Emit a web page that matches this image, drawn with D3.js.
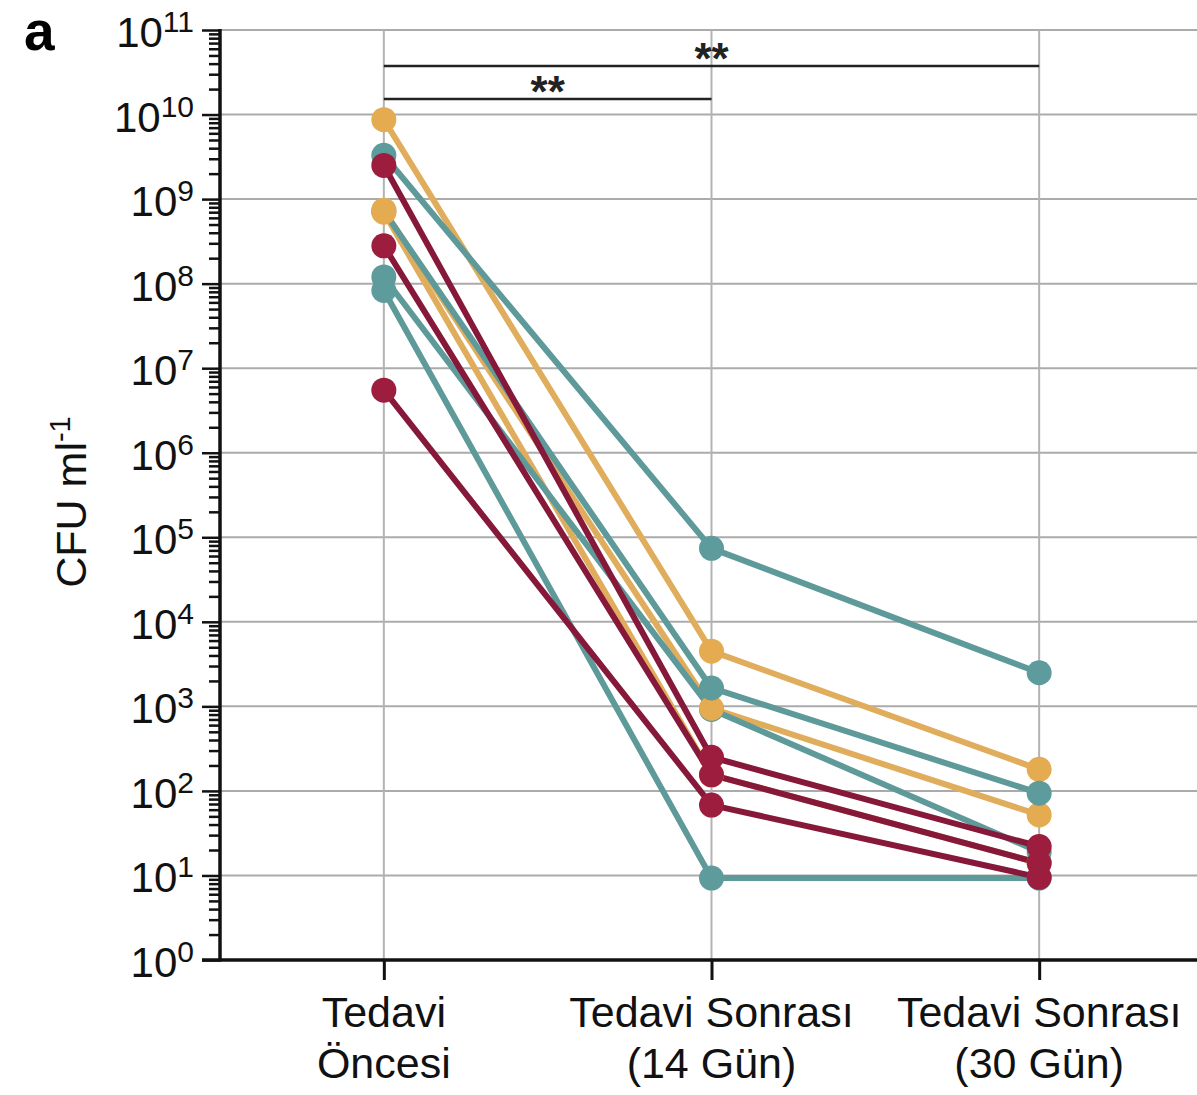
<!DOCTYPE html>
<html><head><meta charset="utf-8">
<script src="https://cdn.jsdelivr.net/npm/d3@7/dist/d3.min.js"></script>
<style>
html,body{margin:0;padding:0;background:#fff;}
svg{display:block;font-family:"Liberation Sans",Arial,Helvetica,sans-serif;}
</style>
</head><body>
<svg id="chart" width="1197" height="1095"></svg>
<script>
// ---- data ----
const categories = ["pre", "d14", "d30"];
const categoryLine1 = ["Tedavi", "Tedavi Sonrası", "Tedavi Sonrası"];
const categoryLine2 = ["Öncesi", "(14 Gün)", "(30 Gün)"];
const yTickExponents = [0,1,2,3,4,5,6,7,8,9,10,11];
const groupNames = ["gold", "teal", "crimson"];
const patientIds   = ["A","D","J","B","E","G","H","C","F","I"];
const patientGroup = ["gold","gold","gold","teal","teal","teal","teal","crimson","crimson","crimson"];
const valuesPre   = [8.7e9, 7.4e8, 7.0e8, 3.3e9, 7.2e8, 1.2e8, 8.3e7, 2.5e9, 2.8e8, 5.5e6];
const valuesDay14 = [4.5e3, 9.5e2, 1.55e2, 7.4e4, 1.65e3, 9.2e2, 9.3, 2.5e2, 1.55e2, 6.8e1];
const valuesDay30 = [1.8e2, 5.2e1, 1.4e1, 2.5e3, 9.4e1, 1.9e1, 9.3, 2.2e1, 1.4e1, 9.5];
const brackets = [ {from: 0, to: 2, label: "**", level: 1}, {from: 0, to: 1, label: "**", level: 0} ];

// ---- styles ----
const lineColor  = {gold: "#e0ad5c", teal: "#5f9a9a", crimson: "#86183a"};
const pointColor = {gold: "#e4ab50", teal: "#5e9b9c", crimson: "#9c1d3d"};
// point stacking order per column (bottom -> top)
const pointOrder = [
  ["B","E","G","H","A","D","J","C","F","I"],
  ["G","A","D","J","B","E","H","C","F","I"],
  ["A","D","J","B","E","G","H","C","F","I"]
];

const svg = d3.select("#chart");
const W = 1197, H = 1095;
const plot = {left: 220, right: 1203, top: 30, bottom: 960};

const x = d3.scalePoint().domain(categories).range([plot.left, plot.right]).padding(0.5);
const y = d3.scaleLog().domain([1, 1e11]).range([plot.bottom, plot.top]);

// gridlines
const grid = svg.append("g");
grid.selectAll("line.h").data(yTickExponents.filter(e => e > 0)).join("line")
  .attr("x1", plot.left).attr("x2", W)
  .attr("y1", e => y(Math.pow(10, e))).attr("y2", e => y(Math.pow(10, e)))
  .attr("stroke", "#ababab").attr("stroke-width", 2);
grid.selectAll("line.v").data(categories).join("line")
  .attr("x1", d => x(d)).attr("x2", d => x(d))
  .attr("y1", plot.top).attr("y2", plot.bottom)
  .attr("stroke", "#b3b3b3").attr("stroke-width", 2);

// significance brackets
const bY = [99, 66];
brackets.forEach(b => {
  const x1 = x(categories[b.from]), x2 = x(categories[b.to]);
  const yy = bY[b.level];
  svg.append("line").attr("x1", x1).attr("x2", x2).attr("y1", yy).attr("y2", yy)
    .attr("stroke", "#222").attr("stroke-width", 2.5);
  svg.append("text").attr("x", (x1 + x2) / 2).attr("y", yy + 8)
    .attr("text-anchor", "middle").attr("font-size", 44).attr("font-weight", "bold")
    .attr("fill", "#222").text(b.label);
});

// series
const series = patientIds.map((id, i) => ({
  id, group: patientGroup[i],
  values: [valuesPre[i], valuesDay14[i], valuesDay30[i]]
}));
const byId = Object.fromEntries(series.map(s => [s.id, s]));
const ordered = groupNames.flatMap(g => series.filter(s => s.group === g));
const line = d3.line().x((d, i) => x(categories[i])).y(d => y(d));

svg.append("g").selectAll("path").data(ordered).join("path")
  .attr("d", s => line(s.values))
  .attr("fill", "none").attr("stroke", s => lineColor[s.group])
  .attr("stroke-width", 6).attr("stroke-linejoin", "round");

const pts = svg.append("g");
categories.forEach((c, ci) => {
  pts.selectAll(null).data(pointOrder[ci].map(id => byId[id])).join("circle")
    .attr("cx", x(c)).attr("cy", s => y(s.values[ci]))
    .attr("r", 12.5).attr("fill", s => pointColor[s.group]);
});

// y axis with major + minor ticks
const majorVals = yTickExponents.map(e => Math.pow(10, e));
const minorVals = [];
yTickExponents.slice(0, -1).forEach(e => { for (let k = 2; k <= 9; k++) minorVals.push(k * Math.pow(10, e)); });

const yAxisMinor = svg.append("g").attr("transform", `translate(${plot.left},0)`)
  .call(d3.axisLeft(y).tickValues(minorVals).tickSize(11).tickFormat(""));
const yAxisMajor = svg.append("g").attr("transform", `translate(${plot.left},0)`)
  .call(d3.axisLeft(y).tickValues(majorVals).tickSize(18).tickFormat(""));
[yAxisMinor, yAxisMajor].forEach(g => {
  g.select(".domain").remove();
  g.selectAll(".tick line").attr("stroke", "#111").attr("stroke-width", 2.5);
});
svg.append("line").attr("x1", plot.left).attr("x2", plot.left)
  .attr("y1", plot.top - 1).attr("y2", plot.bottom + 1.5)
  .attr("stroke", "#111").attr("stroke-width", 3.5);

// y tick labels with superscripts
const ylab = svg.append("g");
yTickExponents.forEach(e => {
  const t = ylab.append("text").attr("x", 194).attr("y", y(Math.pow(10, e)) + 17)
    .attr("text-anchor", "end").attr("fill", "#111").attr("font-size", 42);
  t.append("tspan").text("10");
  t.append("tspan").attr("dy", -15).attr("font-size", 30).text(e);
});

// x axis
const xAxis = svg.append("g").attr("transform", `translate(0,${plot.bottom})`)
  .call(d3.axisBottom(x).tickSize(20).tickFormat(""));
xAxis.select(".domain").remove();
xAxis.selectAll(".tick line").attr("stroke", "#111").attr("stroke-width", 3);
svg.append("line").attr("x1", plot.left - 18).attr("x2", W)
  .attr("y1", plot.bottom).attr("y2", plot.bottom)
  .attr("stroke", "#111").attr("stroke-width", 3.5);

const xl = svg.append("g");
categories.forEach((c, i) => {
  xl.append("text").attr("x", x(c)).attr("y", 1027).attr("text-anchor", "middle")
    .attr("font-size", 43).attr("fill", "#111").text(categoryLine1[i]);
  xl.append("text").attr("x", x(c)).attr("y", 1078).attr("text-anchor", "middle")
    .attr("font-size", 43).attr("fill", "#111").text(categoryLine2[i]);
});

// y axis title
const yt = svg.append("text").attr("transform", "translate(86,502) rotate(-90)")
  .attr("text-anchor", "middle").attr("font-size", 43).attr("fill", "#111");
yt.append("tspan").text("CFU ml");
yt.append("tspan").attr("dy", -16).attr("font-size", 29).text("-1");

// panel letter
svg.append("text").attr("x", 24).attr("y", 50).attr("font-size", 55)
  .attr("font-weight", "bold").attr("fill", "#000").text("a");
</script>
</body></html>
